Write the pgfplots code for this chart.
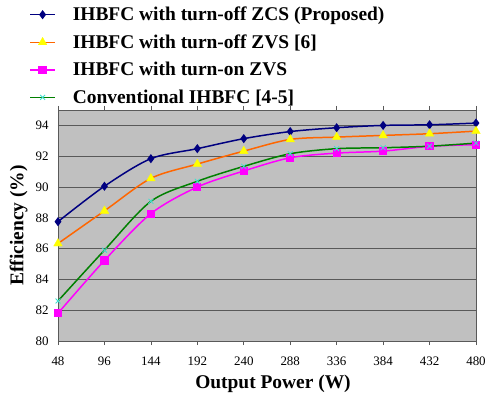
\documentclass[border=0pt]{standalone}
\usepackage{pgfplots}
\pgfplotsset{compat=1.18}
\usepackage{fontspec}
\setmainfont{Liberation Serif}
\definecolor{bgray}{RGB}{192,192,192}
\definecolor{navyb}{RGB}{0,0,128}
\definecolor{orangel}{RGB}{255,102,0}
\definecolor{yellowm}{RGB}{255,255,0}
\definecolor{magl}{RGB}{255,0,255}
\definecolor{greenl}{RGB}{0,128,0}
\definecolor{cyanm}{RGB}{64,224,208}
\begin{document}
\begin{tikzpicture}
\begin{axis}[
  scale only axis,
  width=418bp, height=231bp,
  xmin=48, xmax=480, ymin=80, ymax=95,
  xtick={48,96,...,480}, ytick={80,82,...,94},
  axis background/.style={fill=bgray},
  axis line style={gray!70!black, line width=0.6pt},
  ymajorgrids, grid style={black!65, line width=0.7pt},
  tick style={gray!70!black, line width=0.6pt},
  ytick style={draw=none},
  xtick align=outside, major tick length=4bp,
  /pgf/number format/assume math mode=true,
  ticklabel style={font=\fontsize{13}{13}\selectfont},
  xticklabel style={yshift=-8bp},
  yticklabel style={xshift=-6bp},
  xlabel={\textbf{Output Power (W)}},
  ylabel={\textbf{Efficiency (\%)}},
  label style={font=\fontsize{19.5}{20}\selectfont},
  xlabel style={yshift=-3bp, xshift=6bp},
  ylabel style={yshift=1bp},
  every axis plot/.append style={line width=1.5pt, smooth, tension=0.5},
  legend style={at={(-0.069,1.455)}, anchor=north west, draw=none, fill=none,
    font=\fontsize{19.5}{20}\selectfont\bfseries, row sep=8.5bp, inner sep=0pt,
    nodes={inner xsep=1bp},
    /tikz/every odd column/.append style={column sep=16bp}},
  legend cell align=left,
  legend image code/.code={\draw[mark repeat=2,mark phase=2] plot coordinates {(0bp,0bp) (12.5bp,0bp) (25bp,0bp)};},
]
\addplot[navyb, mark=diamond*, mark size=3.4pt, mark options={fill=navyb, draw=navyb}] coordinates {
(48,87.75) (96,90.05) (144,91.84) (192,92.49) (240,93.14) (288,93.6) (336,93.85) (384,94.0) (432,94.04) (480,94.15)};
\addlegendentry{IHBFC with turn-off ZCS (Proposed)}
\addplot[orangel, mark=triangle*, mark size=5pt, mark options={fill=yellowm, draw=yellowm, line width=0.3pt}] coordinates {
(48,86.33) (96,88.45) (144,90.56) (192,91.49) (240,92.33) (288,93.09) (336,93.24) (384,93.35) (432,93.46) (480,93.63)};
\addlegendentry{IHBFC with turn-off ZVS [6]}
\addplot[magl, mark=square*, mark size=3.4pt, mark options={fill=magl, draw=magl}] coordinates {
(48,81.8) (96,85.23) (144,88.27) (192,90.0) (240,91.04) (288,91.9) (336,92.2) (384,92.33) (432,92.64) (480,92.75)};
\addlegendentry{IHBFC with turn-on ZVS}
\addplot[greenl, mark=x, mark size=3.5pt, mark options={draw=cyanm, line width=0.8pt}] coordinates {
(48,82.6) (96,85.9) (144,89.07) (192,90.37) (240,91.34) (288,92.16) (336,92.49) (384,92.55) (432,92.65) (480,92.85)};
\addlegendentry{Conventional IHBFC [4-5]}
\end{axis}
\pgfresetboundingbox
\path (current axis.south west) ++(-58bp,-58bp) rectangle ++(487bp,399bp);
\end{tikzpicture}
\end{document}
